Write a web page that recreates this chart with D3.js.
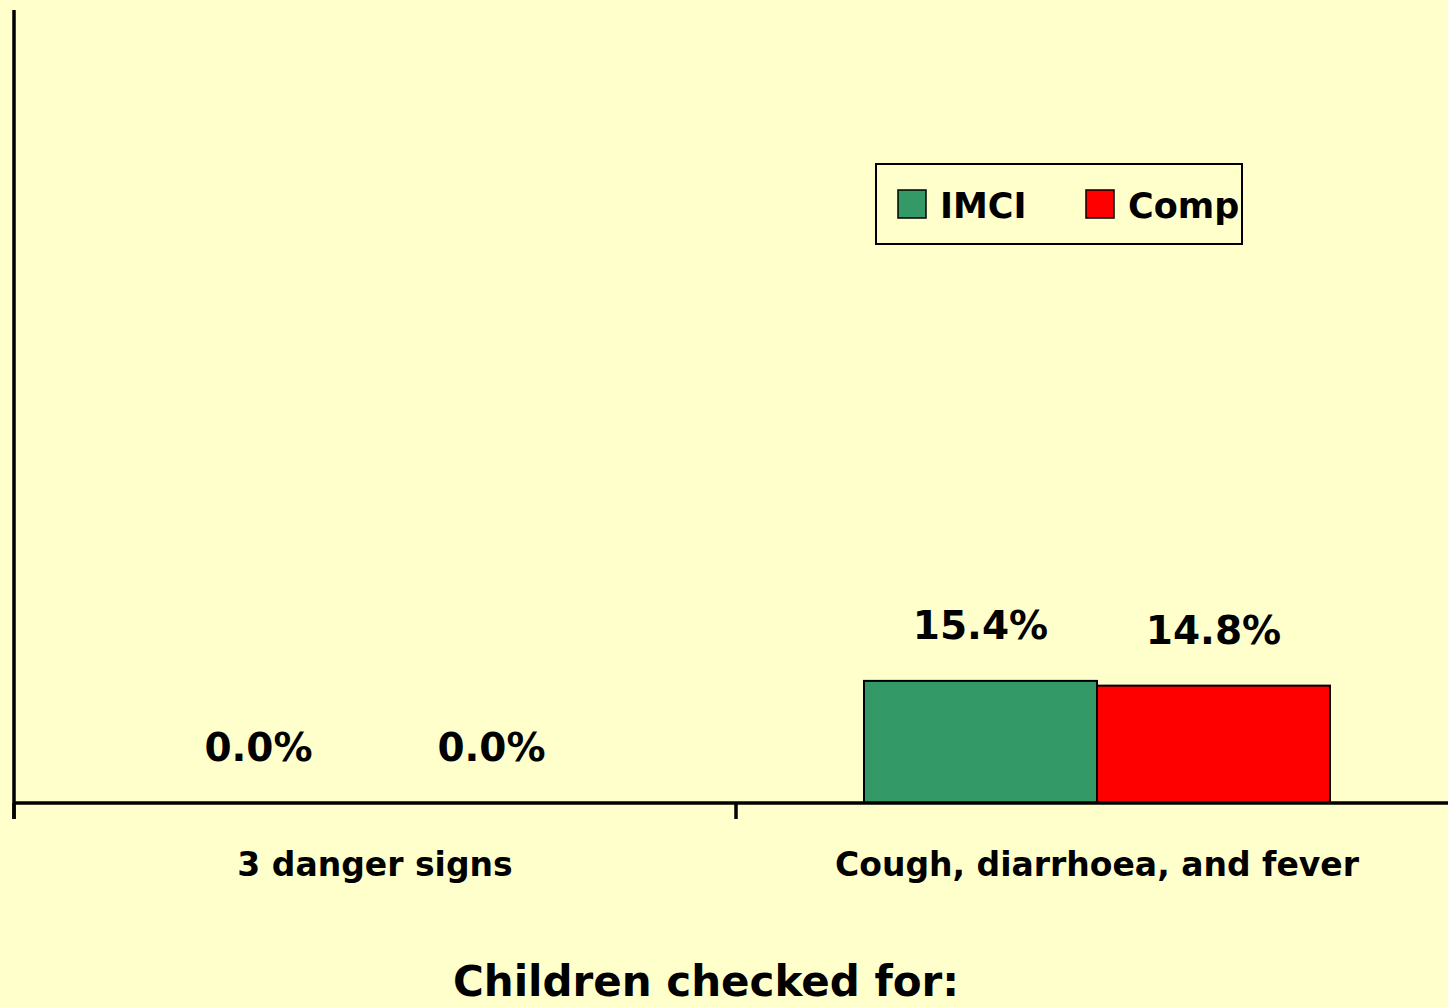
<!DOCTYPE html>
<html>
<head>
<meta charset="utf-8">
<script src="https://cdn.jsdelivr.net/npm/d3@7"></script>
<style>
  html, body { margin: 0; padding: 0; background: #FFFFCC; }
  svg { display: block; }
  text { font-family: "DejaVu Sans", sans-serif; font-weight: bold; fill: #000; }
</style>
</head>
<body>
<div id="chart"></div>
<script>
var categories = ["3 danger signs", "Cough, diarrhoea, and fever"];
var seriesNames = ["IMCI", "Comp"];
var imciValues = [0.0, 15.4];
var compValues = [0.0, 14.8];
var seriesColors = ["#339966", "#FF0000"];
var axisTitle = "Children checked for:";

var width = 1448, height = 1007;
var margin = {top: 10, left: 14, bottom: 204};
var plotRight = 1458;
var baseY = height - margin.bottom; // 803

var svg = d3.select("#chart").append("svg")
  .attr("width", width)
  .attr("height", height);

svg.append("rect")
  .attr("width", width).attr("height", height)
  .attr("fill", "#FFFFCC");

var x0 = d3.scaleBand()
  .domain(categories)
  .range([margin.left, plotRight])
  .paddingInner(0).paddingOuter(0);

var x1 = d3.scaleBand()
  .domain(seriesNames)
  .range([128, x0.bandwidth() - 128]);

var y = d3.scaleLinear()
  .domain([0, 100])
  .range([baseY, margin.top]);

var data = categories.map(function(c, i) {
  return {cat: c, vals: [
    {name: "IMCI", value: imciValues[i], color: seriesColors[0]},
    {name: "Comp", value: compValues[i], color: seriesColors[1]}
  ]};
});

var groups = svg.selectAll(".group")
  .data(data)
  .enter().append("g")
  .attr("class", "group")
  .attr("transform", function(d) { return "translate(" + x0(d.cat) + ",0)"; });

groups.selectAll("rect")
  .data(function(d) { return d.vals.filter(function(v) { return v.value > 0; }); })
  .enter().append("rect")
  .attr("x", function(d) { return x1(d.name); })
  .attr("width", x1.bandwidth())
  .attr("y", function(d) { return y(d.value); })
  .attr("height", function(d) { return baseY - y(d.value); })
  .attr("fill", function(d) { return d.color; })
  .attr("stroke", "#000")
  .attr("stroke-width", 2);

groups.selectAll(".val")
  .data(function(d) { return d.vals; })
  .enter().append("text")
  .attr("class", "val")
  .attr("x", function(d) { return x1(d.name) + x1.bandwidth() / 2; })
  .attr("y", function(d) { return y(d.value) - 42; })
  .attr("text-anchor", "middle")
  .style("font-size", "39px")
  .text(function(d) { return d.value.toFixed(1) + "%"; });

// axes
var xAxis = d3.axisBottom(x0).tickSize(0).tickPadding(0).tickFormat("");
var gx = svg.append("g")
  .attr("transform", "translate(0," + baseY + ")")
  .call(xAxis);
gx.select(".domain").attr("stroke", "#000").attr("stroke-width", 3.5)
  .attr("d", "M" + margin.left + ",0H" + plotRight);

// category separator ticks
gx.selectAll(".sep")
  .data(categories)
  .enter().append("line")
  .attr("class", "sep")
  .attr("x1", function(d) { return x0(d); })
  .attr("x2", function(d) { return x0(d); })
  .attr("y1", 0).attr("y2", 16)
  .attr("stroke", "#000").attr("stroke-width", 3.5);

gx.selectAll(".cat")
  .data(categories)
  .enter().append("text")
  .attr("class", "cat")
  .attr("x", function(d) { return x0(d) + x0.bandwidth() / 2; })
  .attr("y", 73)
  .attr("text-anchor", "middle")
  .style("font-size", "33px")
  .text(function(d) { return d; });

var yAxis = d3.axisLeft(y).tickValues([]).tickSize(0);
var gy = svg.append("g")
  .attr("transform", "translate(" + margin.left + ",0)")
  .call(yAxis);
gy.select(".domain").attr("stroke", "#000").attr("stroke-width", 3.5)
  .attr("d", "M0," + margin.top + "V" + (baseY + 16));

svg.append("text")
  .attr("x", 706)
  .attr("y", 996)
  .attr("text-anchor", "middle")
  .style("font-size", "42px")
  .text(axisTitle);

// legend
var legend = svg.append("g").attr("transform", "translate(876,164)");
legend.append("rect")
  .attr("width", 366).attr("height", 80)
  .attr("fill", "#FFFFCC").attr("stroke", "#000").attr("stroke-width", 2);
var legOffsets = [22, 210];
seriesNames.forEach(function(s, i) {
  legend.append("rect")
    .attr("x", legOffsets[i]).attr("y", 26)
    .attr("width", 28).attr("height", 28)
    .attr("fill", seriesColors[i]).attr("stroke", "#000").attr("stroke-width", 1.5);
  legend.append("text")
    .attr("x", legOffsets[i] + 42).attr("y", 54)
    .style("font-size", "35px")
    .text(s);
});
</script>
</body>
</html>
